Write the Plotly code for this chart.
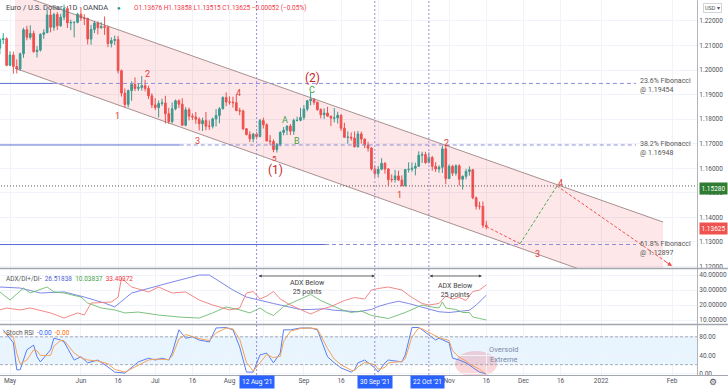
import math
import numpy as np
import pandas as pd
import plotly.graph_objects as go
from plotly.subplots import make_subplots

# ---------------- DATA ----------------
dates = [d.strftime("%Y-%m-%d") for d in pd.bdate_range("2021-04-28", "2021-11-16")]

opens = [1.2089,1.2124,1.2127,
 1.2019,1.2061,1.2014,1.2004,1.2066,1.2164,1.2133,1.2149,1.2075,1.2081,1.2145,1.2152,1.2224,1.2174,1.2226,1.2180,1.2215,1.2250,1.2192,1.2193,1.2194,
 1.2227,1.2212,1.2210,1.2126,1.2165,1.2191,1.2172,1.2177,1.2174,1.2108,1.2120,1.2124,1.1997,1.1906,1.1860,1.1916,1.1941,1.1925,1.1929,1.1936,1.1925,1.1895,
 1.1858,1.1847,1.1864,1.1866,1.1822,1.1790,1.1842,1.1875,1.1861,1.1775,1.1838,1.1812,1.1809,1.1800,1.1781,1.1794,1.1771,1.1771,1.1801,1.1815,1.1842,1.1888,
 1.1870,1.1869,1.1867,1.1835,1.1833,1.1761,1.1737,1.1720,1.1739,1.1729,1.1794,1.1777,1.1711,1.1709,1.1676,1.1697,1.1746,1.1755,1.1772,1.1751,1.1795,1.1795,
 1.1807,1.1841,1.1875,1.1881,1.1869,1.1839,1.1818,1.1825,1.1812,1.1804,1.1805,1.1816,1.1763,1.1726,1.1727,1.1723,1.1688,1.1740,1.1719,1.1695,1.1682,1.1597,
 1.1578,1.1596,1.1620,1.1597,1.1554,1.1554,1.1569,1.1552,1.1530,1.1595,1.1596,1.1600,1.1608,1.1653,1.1656,1.1623,1.1644,1.1608,1.1597,1.1604,1.1679,
 1.1558,1.1608,1.1580,1.1610,1.1555,1.1567,1.1587,1.1594,1.1480,1.1445,1.1445,1.13676]
highs = [1.2129,1.2150,1.2133,
 1.2076,1.2075,1.2043,1.2071,1.2172,1.2180,1.2182,1.2160,1.2098,1.2150,1.2166,1.2245,1.2245,1.2233,1.2236,1.2229,1.2266,1.2261,1.2205,1.2198,1.2233,
 1.2254,1.2227,1.2213,1.2184,1.2199,1.2198,1.2195,1.2218,1.2180,1.2133,1.2140,1.2138,1.2002,1.1925,1.1921,1.1954,1.1970,1.1945,1.1975,1.1960,1.1936,1.1905,
 1.1885,1.1876,1.1883,1.1895,1.1846,1.1868,1.1880,1.1880,1.1885,1.1849,1.1847,1.1823,1.1829,1.1807,1.1806,1.1829,1.1795,1.1806,1.1841,1.1849,1.1893,1.1909,
 1.1893,1.1891,1.1900,1.1846,1.1839,1.1764,1.1751,1.1744,1.1748,1.1801,1.1806,1.1783,1.1735,1.1717,1.1703,1.1751,1.1768,1.1774,1.1780,1.1802,1.1810,1.1846,
 1.1857,1.1876,1.1909,1.1884,1.1871,1.1844,1.1844,1.1850,1.1815,1.1845,1.1830,1.1819,1.1785,1.1750,1.1746,1.1750,1.1752,1.1749,1.1720,1.1708,1.1686,1.1611,
 1.1609,1.1641,1.1625,1.1601,1.1575,1.1593,1.1590,1.1571,1.1597,1.1624,1.1624,1.1623,1.1669,1.1667,1.1667,1.1664,1.1650,1.1625,1.1612,1.1692,1.1692,
 1.1616,1.1614,1.1616,1.1616,1.1571,1.1597,1.1608,1.1597,1.1485,1.1464,1.1465,1.13858]
lows = [1.2064,1.2106,1.2015,
 1.2016,1.1985,1.1986,1.1997,1.2050,1.2121,1.2124,1.2070,1.2051,1.2075,1.2127,1.2150,1.2153,1.2160,1.2163,1.2176,1.2203,1.2171,1.2162,1.2133,1.2190,
 1.2200,1.2183,1.2104,1.2103,1.2150,1.2145,1.2168,1.2143,1.2093,1.2092,1.2102,1.1986,1.1892,1.1847,1.1848,1.1875,1.1914,1.1915,1.1916,1.1913,1.1882,1.1845,
 1.1837,1.1807,1.1854,1.1782,1.1781,1.1782,1.1836,1.1845,1.1772,1.1771,1.1795,1.1796,1.1781,1.1754,1.1752,1.1755,1.1756,1.1762,1.1770,1.1783,1.1840,1.1853,
 1.1859,1.1847,1.1832,1.1816,1.1755,1.1734,1.1707,1.1706,1.1717,1.1726,1.1762,1.1710,1.1693,1.1665,1.1664,1.1689,1.1734,1.1735,1.1735,1.1736,1.1790,1.1791,
 1.1797,1.1832,1.1856,1.1858,1.1834,1.1803,1.1801,1.1810,1.1772,1.1787,1.1782,1.1752,1.1723,1.1700,1.1712,1.1684,1.1684,1.1701,1.1682,1.1668,1.1591,1.1563,
 1.1562,1.1592,1.1578,1.1529,1.1543,1.1542,1.1548,1.1525,1.1525,1.1583,1.1586,1.1571,1.1607,1.1622,1.1618,1.1620,1.1590,1.1585,1.1582,1.1581,1.1535,
 1.1556,1.1569,1.1570,1.1529,1.1513,1.1555,1.1570,1.1474,1.1432,1.1432,1.1357,1.13515]
closes = [1.2124,1.2127,1.2019,
 1.2061,1.2014,1.2004,1.2066,1.2164,1.2133,1.2149,1.2075,1.2081,1.2145,1.2152,1.2224,1.2174,1.2226,1.2180,1.2215,1.2250,1.2192,1.2193,1.2194,1.2227,
 1.2212,1.2210,1.2126,1.2165,1.2191,1.2172,1.2177,1.2174,1.2108,1.2120,1.2124,1.1997,1.1906,1.1860,1.1916,1.1941,1.1925,1.1929,1.1936,1.1925,1.1895,1.1858,
 1.1847,1.1864,1.1866,1.1822,1.1790,1.1842,1.1875,1.1861,1.1775,1.1838,1.1812,1.1809,1.1800,1.1781,1.1794,1.1771,1.1771,1.1801,1.1815,1.1842,1.1888,1.1870,
 1.1869,1.1867,1.1835,1.1833,1.1761,1.1737,1.1720,1.1739,1.1729,1.1794,1.1777,1.1711,1.1709,1.1676,1.1697,1.1746,1.1755,1.1772,1.1751,1.1795,1.1795,1.1807,
 1.1841,1.1875,1.1881,1.1869,1.1839,1.1818,1.1825,1.1812,1.1804,1.1805,1.1816,1.1763,1.1726,1.1727,1.1723,1.1688,1.1740,1.1719,1.1695,1.1682,1.1597,1.1578,
 1.1596,1.1620,1.1597,1.1554,1.1554,1.1569,1.1552,1.1530,1.1595,1.1596,1.1600,1.1608,1.1653,1.1656,1.1623,1.1644,1.1608,1.1597,1.1604,1.1679,1.1558,
 1.1608,1.1580,1.1610,1.1555,1.1567,1.1587,1.1594,1.1480,1.1445,1.1445,1.1368,1.13625]

adx_dates = ["2021-04-28","2021-05-06","2021-05-14","2021-05-25","2021-06-02","2021-06-10","2021-06-15","2021-06-22",
             "2021-07-07","2021-07-20","2021-07-23","2021-08-03","2021-08-09","2021-08-13","2021-08-19","2021-08-25",
             "2021-08-31","2021-09-03","2021-09-09","2021-09-14","2021-09-20","2021-09-23","2021-09-29","2021-10-01",
             "2021-10-06","2021-10-11","2021-10-14","2021-10-19","2021-10-22","2021-10-27","2021-11-01","2021-11-04",
             "2021-11-09","2021-11-11","2021-11-12","2021-11-15","2021-11-16"]
adx_vals = [32, 31.3, 28, 28.7, 25.3, 21.3, 18.7, 28, 34.7, 40, 40, 30, 25.3, 23, 21, 19, 17, 17, 17.5, 16.5,
            16, 15.5, 17, 19, 21, 22.5, 21, 19, 17, 15.5, 15, 15.5, 16.5, 20, 22, 24.5, 26.51838]

dip_dates = ["2021-04-28","2021-05-03","2021-05-07","2021-05-11","2021-05-18","2021-05-20","2021-05-25","2021-06-01",
             "2021-06-03","2021-06-09","2021-06-15","2021-06-18","2021-06-24","2021-07-02","2021-07-12","2021-07-20",
             "2021-07-26","2021-07-30","2021-08-05","2021-08-10","2021-08-13","2021-08-17","2021-08-19","2021-08-24",
             "2021-08-27","2021-09-01","2021-09-03","2021-09-08","2021-09-13","2021-09-16","2021-09-21","2021-09-24",
             "2021-09-29","2021-10-01","2021-10-06","2021-10-13","2021-10-15","2021-10-20","2021-10-22","2021-10-27",
             "2021-10-28","2021-10-29","2021-11-03","2021-11-05","2021-11-09","2021-11-10","2021-11-12","2021-11-16"]
dip_vals = [28.7, 23.3, 31.3, 28, 32, 28.7, 28, 25.3, 21.3, 18, 16.7, 14.7, 15.3, 13.3, 12, 11.3, 14.7, 18.7, 16.7, 14.7,
            18, 15, 13, 19, 22, 25, 27, 23, 20, 17, 15, 16, 13, 12, 11, 15, 17, 20, 19, 18, 22, 18, 17, 15, 15, 12, 11, 10.03837]

dim_dates = ["2021-04-28","2021-04-30","2021-05-06","2021-05-11","2021-05-19","2021-05-25","2021-05-31","2021-06-02",
             "2021-06-04","2021-06-14","2021-06-16","2021-06-17","2021-06-22","2021-06-29","2021-07-02","2021-07-08",
             "2021-07-14","2021-07-20","2021-07-26","2021-08-02","2021-08-05","2021-08-09","2021-08-11","2021-08-13",
             "2021-08-17","2021-08-19","2021-08-23","2021-08-26","2021-08-31","2021-09-03","2021-09-08","2021-09-13",
             "2021-09-17","2021-09-22","2021-09-27","2021-09-29","2021-10-01","2021-10-06","2021-10-12","2021-10-15",
             "2021-10-20","2021-10-22","2021-10-27","2021-10-29","2021-11-02","2021-11-04","2021-11-08","2021-11-10",
             "2021-11-12","2021-11-15","2021-11-16"]
dim_vals = [16.7, 18, 16.7, 18, 14.7, 11.3, 14.7, 13.3, 21.3, 22, 25.3, 38, 32, 28.7, 32, 28, 28.7, 23.3, 20, 16.7,
            18, 28, 29, 24, 26, 29, 24, 20, 17, 14, 17, 19, 23, 25, 24, 30, 31, 32, 30, 25, 21, 20, 21, 26, 24, 25,
            23, 29, 30, 32, 33.40372]

stoch_dates = ["2021-04-29","2021-05-04","2021-05-05","2021-05-06","2021-05-10","2021-05-12","2021-05-13","2021-05-14",
               "2021-05-19","2021-05-20","2021-05-24","2021-05-25","2021-05-28","2021-06-01","2021-06-03","2021-06-08",
               "2021-06-11","2021-06-15","2021-06-18","2021-06-24","2021-06-29","2021-07-01","2021-07-05","2021-07-07",
               "2021-07-08","2021-07-12","2021-07-14","2021-07-16","2021-07-20","2021-07-23","2021-07-27","2021-07-30",
               "2021-08-03","2021-08-05","2021-08-09","2021-08-11","2021-08-13","2021-08-17","2021-08-19","2021-08-23",
               "2021-08-24","2021-08-26","2021-08-31","2021-09-03","2021-09-07","2021-09-10","2021-09-14","2021-09-16",
               "2021-09-21","2021-09-22","2021-09-23","2021-09-27","2021-09-30","2021-10-01","2021-10-05","2021-10-06",
               "2021-10-12","2021-10-13","2021-10-15","2021-10-19","2021-10-20","2021-10-26","2021-10-27","2021-11-01",
               "2021-11-02","2021-11-04","2021-11-08","2021-11-09","2021-11-12","2021-11-16"]
stoch_k = [95, 67, 9, 9, 52, 62, 37, 26, 52, 77, 73, 69, 30, 37, 24, 30, 15, 4, 2, 26, 34, 30, 34, 30, 45, 95, 77, 80,
           73, 69, 99, 100, 95, 58, 4, 4, 41, 45, 24, 45, 95, 95, 99, 99, 95, 37, 24, 13, 4, 9, 24, 30, 13, 4, 24, 30,
           26, 41, 100, 100, 95, 73, 77, 67, 34, 30, 24, 19, 4, 0]
stoch_d = [90, 80, 45, 22, 30, 52, 50, 40, 40, 60, 72, 72, 45, 35, 30, 28, 22, 10, 4, 18, 30, 32, 32, 31, 38, 75, 85, 80,
           76, 72, 88, 99, 97, 75, 25, 6, 25, 42, 35, 38, 70, 92, 98, 99, 97, 55, 32, 20, 8, 7, 15, 25, 20, 10, 14, 24,
           27, 33, 80, 99, 97, 82, 78, 72, 50, 36, 28, 22, 10, 0]

fib_levels = [1.19454, 1.16948, 1.12897]
fib_names = ["23.6% Fibonacci", "38.2% Fibonacci", "61.8% Fibonacci"]
fib_solid_end = ["2021-05-19 17:00", "2021-07-12 06:00", "2021-09-09 06:00"]
fib_line_end = "2022-01-17 08:00"
level_line = 1.15280

channel_dates = ["2021-05-04 12:00", "2022-01-27 08:00"]
channel_upper = [1.2312, 1.1381]
channel_lower = [1.2007, 1.1068]

proj_dates = ["2021-11-16", "2021-11-30", "2021-12-14 22:00", "2022-02-01"]
proj_prices = [1.13625, 1.1293, 1.1528, 1.1202]

event_dates = ["2021-08-12", "2021-09-30", "2021-10-22"]
event_labels = ["12 Aug '21", "30 Sep '21", "22 Oct '21"]

tick_dates = ["2021-05-03","2021-06-01","2021-06-16","2021-07-01","2021-07-16","2021-08-02","2021-08-16","2021-09-01",
              "2021-09-16","2021-10-01","2021-10-15","2021-11-01","2021-11-16","2021-12-01","2021-12-16","2022-01-03","2022-02-01"]
tick_text = ["May","Jun","16","Jul","16","Aug","","Sep","16","","","Nov","16","Dec","16","2022","Feb"]

# ---------------- STYLE / LAYOUT HELPERS ----------------
W, H = 728, 391
PW, PH = 697, 375          # plot area in px
X_MAY3, PX_PER_BAR = 10.0, 3.378
FONT = "Roboto, Liberation Sans, sans-serif"
UP, DN = "#26a69a", "#ef5350"
GRID = "#f0f3fa"
TXT = "#50535e"


def px2date(px):
    n = (px - X_MAY3) / PX_PER_BAR
    whole = math.floor(n)
    frac = n - whole
    d = np.busday_offset(np.datetime64("2021-05-03"), whole, roll="forward")
    ts = pd.Timestamp(d) + pd.Timedelta(hours=24 * frac)
    return ts.strftime("%Y-%m-%d %H:%M:%S")


def xp(px):
    return px / PW


def yp(py):
    return (PH - py) / PH


fig = make_subplots(rows=3, cols=1, shared_xaxes=True, vertical_spacing=0)

# channel fill and borders
fig.add_trace(go.Scatter(
    x=[channel_dates[0], channel_dates[1], channel_dates[1], channel_dates[0], channel_dates[0]],
    y=[channel_upper[0], channel_upper[1], channel_lower[1], channel_lower[0], channel_upper[0]],
    fill="toself", fillcolor="rgba(242,54,69,0.12)", line=dict(width=0), mode="lines",
    hoverinfo="skip", showlegend=False), row=1, col=1)
for ys in (channel_upper, channel_lower):
    fig.add_trace(go.Scatter(x=channel_dates, y=ys, mode="lines",
                             line=dict(color="rgba(140,110,110,0.75)", width=1),
                             hoverinfo="skip", showlegend=False), row=1, col=1)

# fibonacci lines
x_start = px2date(-2)
for lvl, s_end in zip(fib_levels, fib_solid_end):
    fig.add_trace(go.Scatter(x=[x_start, s_end], y=[lvl, lvl], mode="lines",
                             line=dict(color="#5c6bd6", width=1), hoverinfo="skip", showlegend=False), row=1, col=1)
    fig.add_trace(go.Scatter(x=[s_end, fib_line_end], y=[lvl, lvl], mode="lines",
                             line=dict(color="#8a8fdc", width=1, dash="4px,3px"), hoverinfo="skip",
                             showlegend=False), row=1, col=1)

# horizontal dotted level
fig.add_trace(go.Scatter(x=[x_start, px2date(700)], y=[level_line, level_line], mode="lines",
                         line=dict(color="#555555", width=1, dash="1px,2px"), hoverinfo="skip",
                         showlegend=False), row=1, col=1)

# candles
fig.add_trace(go.Candlestick(
    x=dates, open=opens, high=highs, low=lows, close=closes,
    increasing=dict(line=dict(color=UP, width=1), fillcolor=UP),
    decreasing=dict(line=dict(color=DN, width=1), fillcolor=DN),
    whiskerwidth=0, hoverinfo="skip", showlegend=False), row=1, col=1)

# projection path
proj_colors = ["#ef5350", "#4caf50", "#ef5350"]
for i in range(3):
    fig.add_trace(go.Scatter(x=proj_dates[i:i + 2], y=proj_prices[i:i + 2], mode="lines",
                             line=dict(color=proj_colors[i], width=1, dash="3px,2px"),
                             hoverinfo="skip", showlegend=False), row=1, col=1)
fig.add_annotation(x=proj_dates[3], y=proj_prices[3], xref="x", yref="y", ax=-9, ay=-6,
                   showarrow=True, arrowhead=2, arrowsize=0.9, arrowwidth=1, arrowcolor="#ef5350", text="")

# ADX / DI
fig.add_trace(go.Scatter(x=adx_dates, y=adx_vals, mode="lines", line=dict(color="#6f7be6", width=0.9),
                         hoverinfo="skip", showlegend=False), row=2, col=1)
fig.add_trace(go.Scatter(x=dip_dates, y=dip_vals, mode="lines", line=dict(color="#6dbb6f", width=0.9),
                         hoverinfo="skip", showlegend=False), row=2, col=1)
fig.add_trace(go.Scatter(x=dim_dates, y=dim_vals, mode="lines", line=dict(color="#f07a7a", width=0.9),
                         hoverinfo="skip", showlegend=False), row=2, col=1)

# Stoch RSI
fig.add_trace(go.Scatter(x=stoch_dates, y=stoch_k, mode="lines", line=dict(color="#5b7ff0", width=1),
                         hoverinfo="skip", showlegend=False), row=3, col=1)
fig.add_trace(go.Scatter(x=stoch_dates, y=stoch_d, mode="lines", line=dict(color="#f5a25a", width=1),
                         hoverinfo="skip", showlegend=False), row=3, col=1)

# ---------------- AXES ----------------
x_range = [px2date(0), px2date(PW)]
fig.update_xaxes(range=x_range, rangebreaks=[dict(bounds=["sat", "mon"])], tickvals=tick_dates,
                 ticktext=tick_text, showgrid=True, gridcolor=GRID, gridwidth=1, zeroline=False,
                 showline=False, ticks="", tickfont=dict(size=6.5, color=TXT, family=FONT),
                 rangeslider=dict(visible=False))
fig.update_xaxes(showticklabels=False, row=1, col=1)
fig.update_xaxes(showticklabels=False, row=2, col=1)
fig.update_xaxes(showticklabels=True, row=3, col=1)

common_y = dict(side="right", showgrid=True, gridcolor=GRID, zeroline=False, ticks="", ticklen=0,
                showline=True, linecolor="#b2b5be", linewidth=1,
                tickfont=dict(size=6.5, color=TXT, family=FONT))
fig.update_layout(
    yaxis=dict(domain=[(PH - 268) / PH, 1], range=[1.1194, 1.2285], dtick=0.01, tick0=1.12,
               tickformat=".5f", **common_y),
    yaxis2=dict(domain=[(PH - 324) / PH, (PH - 269) / PH], range=[7.33, 44], tickvals=[10, 20, 30, 40],
                tickformat=".5f", **common_y),
    yaxis3=dict(domain=[0, (PH - 325) / PH], range=[-2.2, 105.4], tickvals=[0, 40, 80],
                tickformat=".2f", **common_y),
)

# ---------------- SHAPES ----------------
# stoch band
fig.add_shape(type="rect", xref="x3 domain", yref="y3", x0=0, x1=1, y0=20, y1=80,
              fillcolor="rgba(33,150,243,0.10)", line=dict(width=0), layer="below")
for lv in (20, 80):
    fig.add_shape(type="line", xref="x3 domain", yref="y3", x0=0, x1=1, y0=lv, y1=lv,
                  line=dict(color="#9598a1", width=0.8, dash="3px,2px"))
# oversold ellipse
fig.add_shape(type="circle", xref="x3", yref="y3", x0=px2date(455), x1=px2date(497), y0=-6.5, y1=49.5,
              fillcolor="rgba(242,54,69,0.20)", line=dict(width=0), layer="below")
# event verticals
for d in event_dates:
    fig.add_shape(type="line", xref="x", yref="paper", x0=d, x1=d, y0=0, y1=1,
                  line=dict(color="#9b8fdc", width=1, dash="2px,2px"))
# panel separators and bottom line
for py in (268.5, 324.5, 375.5):
    fig.add_shape(type="line", xref="paper", yref="paper", x0=0, x1=W / PW, y0=yp(py), y1=yp(py),
                  line=dict(color="#a3a6af", width=1.5 if py < 370 else 1))


# ---------------- TEXT ----------------
def txt(px, py, s, size, color, xanchor="center", yanchor="middle", **kw):
    fig.add_annotation(x=xp(px), y=yp(py), xref="paper", yref="paper", text=s, showarrow=False,
                       font=dict(size=size, color=color, family=FONT), xanchor=xanchor,
                       yanchor=yanchor, **kw)


txt(4, 8, "Euro / U.S. Dollar · 1D · OANDA", 7.5, "#434651", xanchor="left")
txt(119, 8, "●", 6, "#089981")
txt(132, 8, "O1.13676 H1.13858 L1.13515 C1.13625 −0.00052 (−0.05%)", 6.5, "#f23645", xanchor="left")
txt(712, 8, "USD ▾", 5.5, TXT, bordercolor="#d1d4dc", borderwidth=1, borderpad=1, bgcolor="white")

# fib labels
for lvl, name, py in zip(fib_levels, fib_names, (85.5, 148.5, 248.5)):
    txt(638, py, f"{name}<br>@ {lvl:.5f}", 7, "#555555", xanchor="left", align="left")

# wave labels
RED, DRED, GRN = "#e53935", "#c62828", "#43a047"
for s, px, py, size, col in [
    ("1", 117, 116, 9, RED), ("2", 147, 74, 9, RED), ("3", 197, 141, 9, RED), ("4", 238, 93, 9, RED),
    ("5", 274, 158, 8, RED), ("(1)", 275, 170, 12, DRED), ("A", 285, 120, 9, GRN), ("B", 297, 141, 9, GRN),
    ("C", 312, 90, 9, GRN), ("(2)", 312, 78, 12, DRED), ("1", 399, 195, 9, RED), ("2", 446, 143, 9, RED),
    ("3", 537, 254, 9, RED), ("4", 560, 183, 9, RED)]:
    txt(px, py, s, size, col)

# price labels on axis
txt(699, 188, "1.15280", 6.5, "white", xanchor="left", bgcolor="#2e7d32", borderpad=1.5)
txt(699, 228, "1.13625", 6.5, "white", xanchor="left", bgcolor="#ef5350", borderpad=1.5)

# indicator legends
txt(4, 279, "ADX/DI+/DI-  <span style='color:#4f5bd5'>26.51838</span>  "
            "<span style='color:#43a047'>10.03837</span>  <span style='color:#f23645'>33.40372</span>",
    6.5, "#555555", xanchor="left")
txt(4, 333, "Stoch RSI  <span style='color:#2962ff'>-0.00</span>  <span style='color:#ff6d00'>-0.00</span>",
    6.5, "#555555", xanchor="left")

# ADX annotations
for x0, x1, tx, ty in [(257, 375, 307, 287), (428, 482, 456, 290)]:
    fig.add_annotation(x=xp(x1), y=yp(276), xref="paper", yref="paper", ax=-(x1 - x0), ay=0,
                       showarrow=True, arrowhead=2, arrowside="end+start", arrowsize=0.8,
                       arrowwidth=0.8, arrowcolor="#444444", text="")
    txt(tx, ty, "ADX Below<br>25 points", 7, "#444444")

txt(503, 354.5, "Oversold<br>Extreme", 7.5, "#7d8aa6")

# event date boxes on the time axis
for d, lab, px in zip(event_dates, event_labels, (257, 375, 428)):
    txt(px, 382, lab, 6.5, "white", bgcolor="#2962ff", borderpad=2)

txt(713, 382, "⚙", 9, TXT)

fig.update_layout(width=W, height=H, margin=dict(l=0, r=W - PW, t=0, b=H - PH),
                  plot_bgcolor="white", paper_bgcolor="white", showlegend=False,
                  font=dict(family=FONT, size=7, color=TXT), hovermode=False)

assert len(dates) == len(opens) == len(highs) == len(lows) == len(closes)
fig.write_html("out.html", config={"displayModeBar": False},
               post_script="document.body.style.margin='0';document.body.style.padding='0';"
                           "document.body.style.overflow='hidden';")
